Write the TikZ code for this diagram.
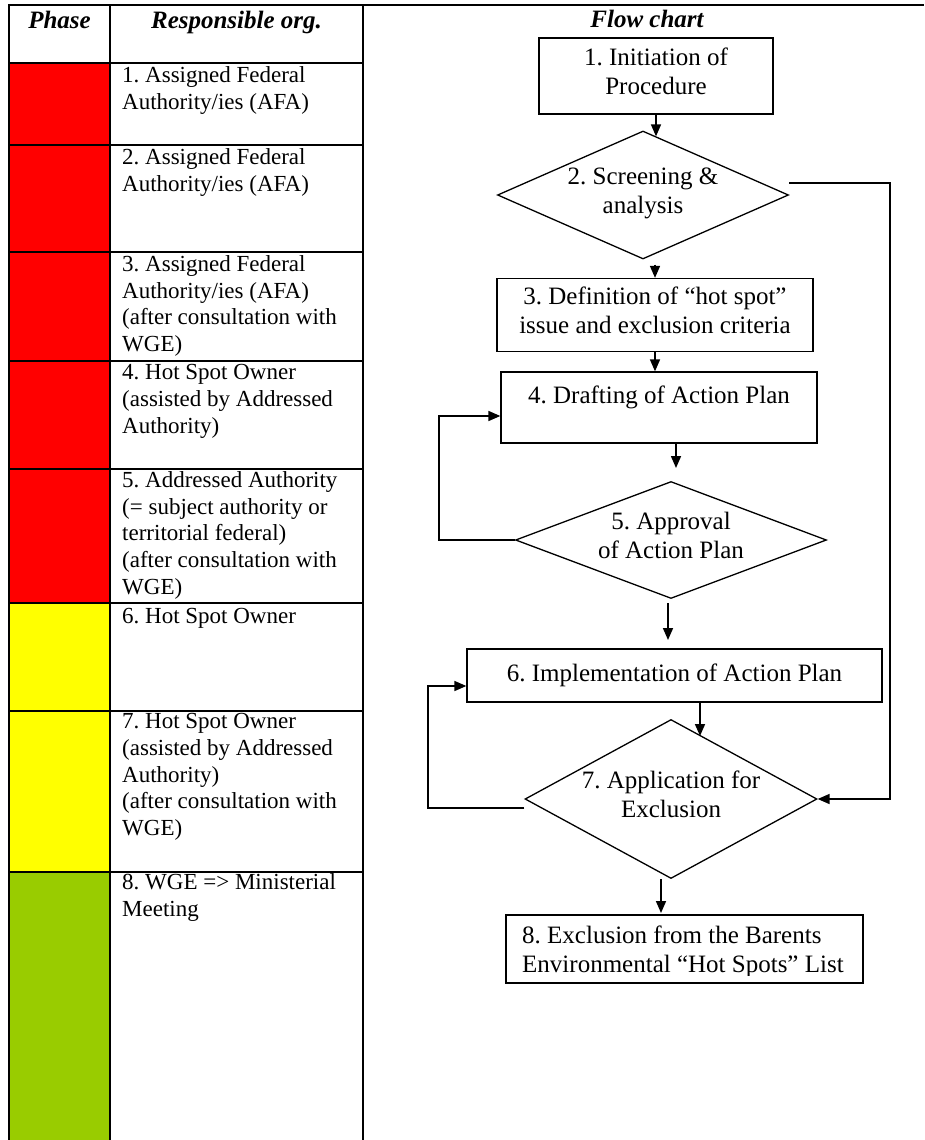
\documentclass[tikz,border=0pt]{standalone}
\usepackage{fontspec}
\setmainfont{Liberation Serif}
\usetikzlibrary{shapes.geometric,arrows.meta}
\definecolor{phred}{HTML}{FF0000}
\definecolor{phyellow}{HTML}{FFFF00}
\definecolor{phgreen}{HTML}{99CC00}
\frenchspacing
\tikzset{
  every node/.style={font=\fontsize{23}{26.7}\selectfont},
  grid/.style={line width=2pt},
  cell/.style={anchor=north west, align=left, inner sep=0pt, execute at begin node=\strut},
  flowtext/.style={font=\fontsize{25}{29}\selectfont},
  head/.style={anchor=base, inner sep=0pt, font=\fontsize{25}{29}\selectfont\bfseries\itshape},
  procbox/.style={flowtext, draw, line width=1.3pt, rectangle, align=center, inner sep=0pt,
    execute at begin node=\strut, execute at end node=\strut},
  decide/.style={flowtext, draw, line width=1.3pt, diamond, align=center, inner sep=0pt,
    execute at begin node=\strut, execute at end node=\strut},
  flow/.style={line width=1.6pt, -{Triangle[length=12pt,width=10pt]}},
}
\begin{document}
\begin{tikzpicture}[x=1pt,y=-1pt]
\useasboundingbox (0,0) rectangle (924,1140);
% phase colours
\fill[phred] (9,63) rectangle (110,603);
\fill[phyellow] (9,603) rectangle (110,872);
\fill[phgreen] (9,872) rectangle (110,1140);
% table grid
\draw[grid] (8,5) -- (924,5);
\draw[grid] (9,5) -- (9,1140);
\draw[grid] (110,5) -- (110,1140);
\draw[grid] (363,5) -- (363,1140);
\foreach \yy in {63,145,252,361,469,603,711,872} \draw[grid] (9,\yy) -- (363,\yy);
% headers
\node[head] (hphase) at (59.5,29) {Phase};
\node[head] (hresp) at (236.5,29) {Responsible org.};
\node[head] (hflow) at (647,28) {Flow chart};
% responsible organisations
\node[cell] (c1) at (122,66.3) {1. Assigned Federal\\Authority/ies (AFA)};
\node[cell] (c2) at (122,148.3) {2. Assigned Federal\\Authority/ies (AFA)};
\node[cell] (c3) at (122,255.3) {3. Assigned Federal\\Authority/ies (AFA)\\(after consultation with\\WGE)};
\node[cell] (c4) at (122,364.3) {4. Hot Spot Owner\\(assisted by Addressed\\Authority)};
\node[cell] (c5) at (122,471.3) {5. Addressed Authority\\(= subject authority or\\territorial federal)\\(after consultation with\\WGE)};
\node[cell] (c6) at (122,604.3) {6. Hot Spot Owner};
\node[cell] (c7) at (122,713.3) {7. Hot Spot Owner\\(assisted by Addressed\\Authority)\\(after consultation with\\WGE)};
\node[cell] (c8) at (122,873.3) {8. WGE => Ministerial\\Meeting};
% flow chart
\node[procbox, minimum width=234, minimum height=76] (b1) at (656,76) {1. Initiation of\\Procedure};
\node[decide, shape aspect=2.27, minimum width=291, minimum height=128] (d2) at (643,195) {2. Screening \&\\analysis};
\node[procbox, minimum width=316, minimum height=73] (b3) at (655,315) {3. Definition of “hot spot”\\issue and exclusion criteria};
\node[procbox, minimum width=316, minimum height=71] (b4) at (659,407.5) {4. Drafting of Action Plan\\[-13pt]};
\node[decide, shape aspect=2.66, minimum width=311, minimum height=117] (d5) at (671,540) {5. Approval\\of Action Plan};
\node[procbox, minimum width=415, minimum height=53] (b6) at (674.5,675.5) {6. Implementation of Action Plan};
\node[decide, shape aspect=1.84, minimum width=292, minimum height=159] (d7) at (671,799) {7. Application for\\Exclusion};
\node[procbox, minimum width=357, minimum height=68] (b8) at (684.5,949) {};
\begin{scope}
  \clip (506,915) rectangle (863,975.5);
  \node[cell, flowtext] (t8) at (522,925.7) {8. Exclusion from the Barents\\Environmental “Hot Spots” List};
\end{scope}
% helper coordinates
\coordinate (a45) at (676,468);
\coordinate (a56s) at (668,603);
\coordinate (a56e) at (668,640);
\coordinate (a67) at (700,736);
\coordinate (a78) at (661,913);
\coordinate (l4) at (439,416);
\coordinate (l6) at (428,686);
\coordinate (rx) at (890,0);
% connectors
\draw[flow] (b1.south) -- ([yshift=-6pt]b1.south |- d2.north);
\draw[flow] ([yshift=-5pt]b3.north |- d2.south) -- (b3.north);
\draw[flow] (b3.south) -- (b3.south |- b4.north);
\draw[flow] (a45 |- b4.south) -- (a45);
\draw[flow] (d5.west) -| (l4) -- (l4 -| b4.west);
\draw[flow] (a56s) -- (a56e);
\draw[flow] (a67 |- b6.south) -- (a67);
\draw[flow] ([yshift=-9pt]d7.west) -| (l6) -- (l6 -| b6.west);
\draw[flow] ([yshift=12pt]d2.east) -| (d7.east -| rx) -- (d7.east);
\draw[flow] (a78 |- d7.south) -- (a78);
\end{tikzpicture}
\end{document}
